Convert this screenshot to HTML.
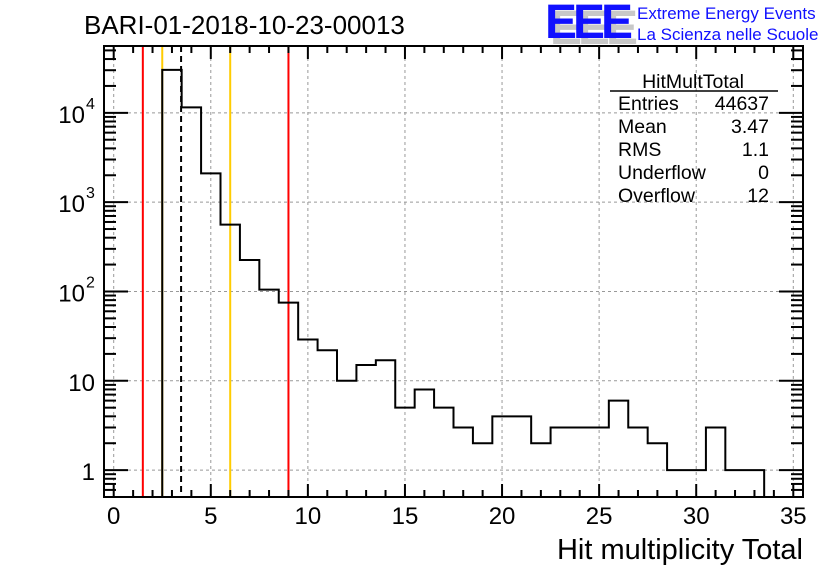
<!DOCTYPE html>
<html><head><meta charset="utf-8"><style>
body{margin:0;background:#fff}
svg{display:block;font-family:"Liberation Sans",sans-serif}
</style></head><body>
<svg id="c" width="836" height="572" viewBox="0 0 836 572" xmlns="http://www.w3.org/2000/svg">
<rect width="836" height="572" fill="#fff"/>
<text x="84" y="34" font-size="26">BARI-01-2018-10-23-00013</text>
<g>
<text x="550" y="44" font-size="48" font-weight="bold" fill="#c8c8c8" letter-spacing="-4" textLength="84" lengthAdjust="spacingAndGlyphs">EEE</text>
<text x="545" y="38" font-size="48" font-weight="bold" fill="#1010ff" letter-spacing="-4" textLength="84" lengthAdjust="spacingAndGlyphs">EEE</text>
<text x="637" y="19" font-size="17" fill="#1010ff">Extreme Energy Events</text>
<text x="637" y="40" font-size="17" fill="#1010ff">La Scienza nelle Scuole</text>
</g>
<g id="grid"></g><g id="lines"></g><g id="hist"></g><g id="axes"></g>
<g font-size="19.5">
<text x="693" y="88" text-anchor="middle">HitMultTotal</text>
<line x1="610" y1="91" x2="778" y2="91" stroke="#000" stroke-width="1.5"/>
<text x="618" y="110">Entries</text><text x="769" y="110" text-anchor="end">44637</text>
<text x="618" y="133">Mean</text><text x="769" y="133" text-anchor="end">3.47</text>
<text x="618" y="156">RMS</text><text x="769" y="156" text-anchor="end">1.1</text>
<text x="618" y="179">Underflow</text><text x="769" y="179" text-anchor="end">0</text>
<text x="618" y="202">Overflow</text><text x="769" y="202" text-anchor="end">12</text>
</g>
<text x="803" y="559" font-size="29" text-anchor="end">Hit multiplicity Total</text>
</svg>
<script>
const binCenters=[3,4,5,6,7,8,9,10,11,12,13,14,15,16,17,18,19,20,21,22,23,24,25,26,27,28,29,30,31,32,33];
const binValues=[30300,11500,2100,560,225,105,75,29,22,10,15,17,5,8,5,3,2,4,4,2,3,3,3,6,3,2,1,1,3,1,1];
const xTicks=[0,5,10,15,20,25,30,35];
const yTicks=[1,10,100,1000,10000];
const yTickLabels=["1","10","10","10","10"];
const yTickExp=["","","2","3","4"];
const redLines=[1.5,9];
const orangeLines=[2.5,6];
const meanLine=[3.47];
const L=104,R=803,T=46,B=497,xmin=-0.5,xmax=35.5,lmin=Math.log10(0.5),lmax=Math.log10(56000);
const X=v=>L+(v-xmin)/(xmax-xmin)*(R-L);
const Y=v=>B-(Math.log10(v)-lmin)/(lmax-lmin)*(B-T);
const NS="http://www.w3.org/2000/svg";
function mk(p,t,a){const e=document.createElementNS(NS,t);for(const k in a)e.setAttribute(k,a[k]);p.appendChild(e);return e;}
const grid=document.getElementById('grid'),lines=document.getElementById('lines'),hist=document.getElementById('hist'),axes=document.getElementById('axes');
xTicks.forEach(v=>{const g=mk(grid,'line',{x1:X(v),x2:X(v),y1:T,y2:B,stroke:'#999','stroke-dasharray':'3,3'});
});
yTicks.forEach(v=>{const g=mk(grid,'line',{x1:L,x2:R,y1:Y(v),y2:Y(v),stroke:'#999','stroke-dasharray':'3,3'});
});
redLines.forEach(v=>{const e=mk(lines,'line',{x1:X(v),x2:X(v),y1:T,y2:B,stroke:'#f00','stroke-width':2});
});
orangeLines.forEach(v=>{const e=mk(lines,'line',{x1:X(v),x2:X(v),y1:T,y2:B,stroke:'#fc0','stroke-width':2});
});
meanLine.forEach(v=>{const e=mk(lines,'line',{x1:X(v),x2:X(v),y1:T,y2:B,stroke:'#000','stroke-width':2,'stroke-dasharray':'6,4'});
});
let d='M'+X(binCenters[0]-0.5)+','+B;
binCenters.forEach((c,i)=>{const y=Y(binValues[i]);d+=' L'+X(c-0.5)+','+y+' L'+X(c+0.5)+','+y;});
d+=' L'+X(binCenters[binCenters.length-1]+0.5)+','+B;
const h=mk(hist,'path',{d:d,fill:'none',stroke:'#000','stroke-width':2});

const fr=mk(axes,'rect',{x:L,y:T,width:R-L,height:B-T,fill:'none',stroke:'#000','stroke-width':2});

for(let v=0;v<=35;v++){const len=v%5==0?13:7;
mk(axes,'line',{x1:X(v),x2:X(v),y1:B,y2:B-len,stroke:'#000','stroke-width':2});
mk(axes,'line',{x1:X(v),x2:X(v),y1:T,y2:T+len,stroke:'#000','stroke-width':2});}
xTicks.forEach(v=>{const t=mk(axes,'text',{x:X(v),y:524,'font-size':24,'text-anchor':'middle'});t.textContent=v;
});
for(let e=-1;e<=4;e++)for(let m=1;m<=9;m++){const v=m*Math.pow(10,e);if(v<0.5||v>56000)continue;const len=m==1?24:12;
mk(axes,'line',{x1:L,x2:L+len,y1:Y(v),y2:Y(v),stroke:'#000','stroke-width':2});
mk(axes,'line',{x1:R,x2:R-len,y1:Y(v),y2:Y(v),stroke:'#000','stroke-width':2});}
yTicks.forEach((v,i)=>{const t=mk(axes,'text',{x:yTickExp[i]?85:95,y:Y(v)+10,'font-size':24,'text-anchor':'end'});t.textContent=yTickLabels[i];

if(yTickExp[i]){const s=mk(axes,'text',{x:86,y:Y(v)-4,'font-size':16});s.textContent=yTickExp[i];
}});
</script>
</body></html>
